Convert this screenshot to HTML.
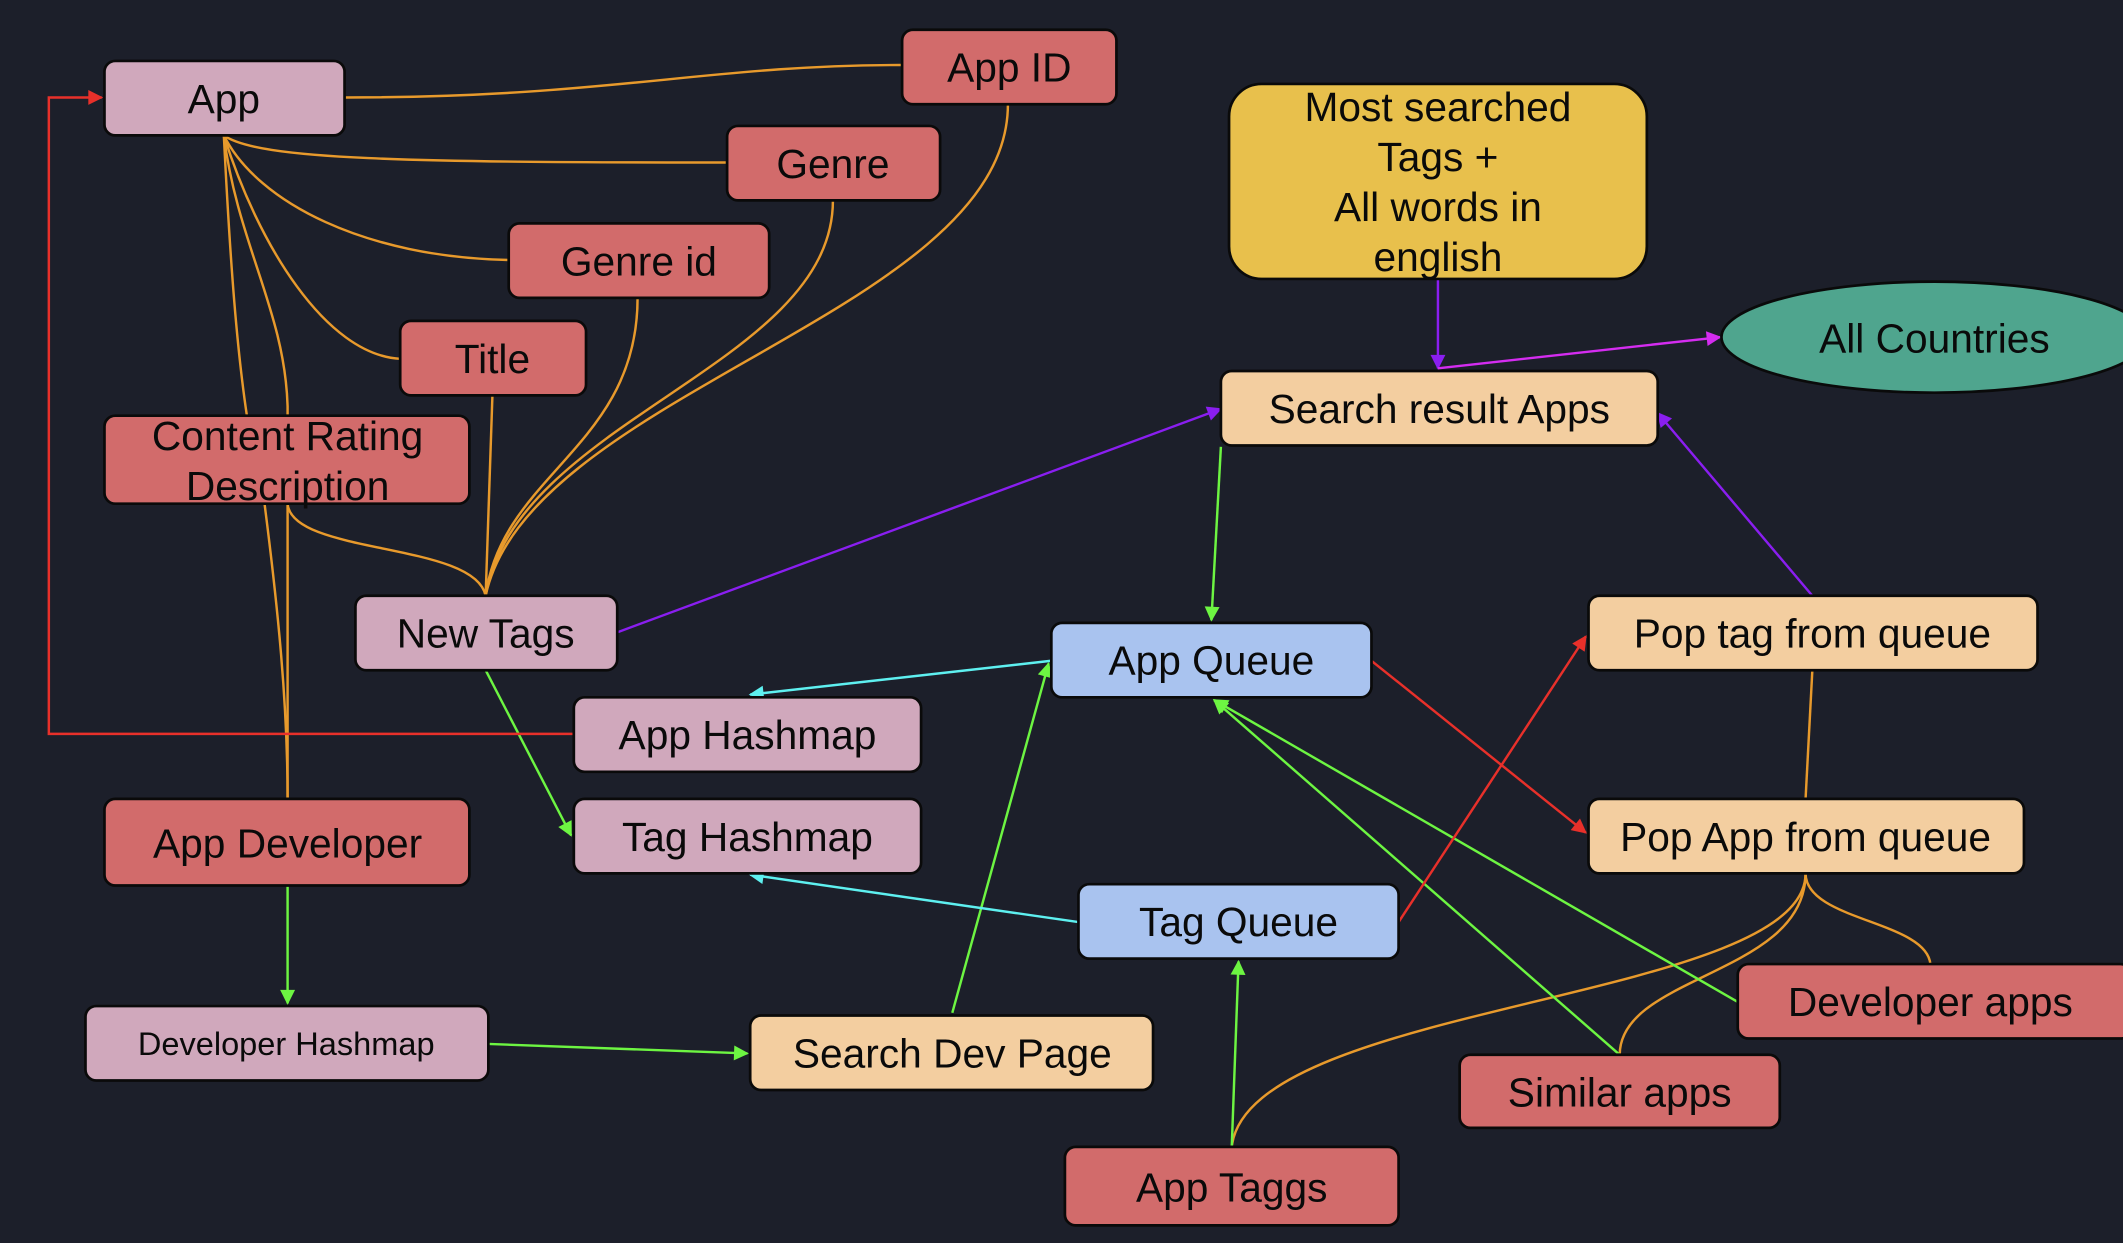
<!DOCTYPE html>
<html><head><meta charset="utf-8"><style>
html,body{margin:0;padding:0;background:#1c1f2a;overflow:hidden}
svg{display:block}
text{font-family:"Liberation Sans",sans-serif;font-size:30px;fill:#0a0a0a;text-anchor:middle;dominant-baseline:central}
.n{stroke:#0a0a0a;stroke-width:2}
.p{fill:#d0a8bc}.r{fill:#d26b6b}.o{fill:#f3cea0}.b{fill:#a9c3ef}
.e{fill:none;stroke-width:1.8}
.or{stroke:#e89a2c}.pu{stroke:#8a1ef0}.gr{stroke:#6df542}.cy{stroke:#5ef0f0}.rd{stroke:#e8302a}.mg{stroke:#d42cf0}
</style></head><body>
<svg width="2123" height="1243" viewBox="0 0 1565 918" preserveAspectRatio="none" xmlns="http://www.w3.org/2000/svg">
<defs>
<marker id="ag" viewBox="0 0 10 10" refX="9" refY="5" markerWidth="16" markerHeight="11" orient="auto" markerUnits="userSpaceOnUse"><path d="M0,0L10,5L0,10z" fill="#6df542"/></marker>
<marker id="ap" viewBox="0 0 10 10" refX="9" refY="5" markerWidth="16" markerHeight="11" orient="auto" markerUnits="userSpaceOnUse"><path d="M0,0L10,5L0,10z" fill="#8a1ef0"/></marker>
<marker id="am" viewBox="0 0 10 10" refX="9" refY="5" markerWidth="16" markerHeight="11" orient="auto" markerUnits="userSpaceOnUse"><path d="M0,0L10,5L0,10z" fill="#d42cf0"/></marker>
<marker id="ac" viewBox="0 0 10 10" refX="9" refY="5" markerWidth="16" markerHeight="11" orient="auto" markerUnits="userSpaceOnUse"><path d="M0,0L10,5L0,10z" fill="#5ef0f0"/></marker>
<marker id="ar" viewBox="0 0 10 10" refX="9" refY="5" markerWidth="16" markerHeight="11" orient="auto" markerUnits="userSpaceOnUse"><path d="M0,0L10,5L0,10z" fill="#e8302a"/></marker>
</defs>
<rect width="1565" height="918" fill="#1c1f2a"/>
<g class="e or">
<path d="M254,72 C450,72 520,48 665,48"/>
<path d="M165,100 C190,118 300,120 536,120"/>
<path d="M165,100 C190,150 270,190 375,192"/>
<path d="M165,100 C190,180 240,262 295,265"/>
<path d="M165,100 C170,200 175,260 182,307"/>
<path d="M165,100 C175,180 210,230 212,300 L212,590"/>
<path d="M195,372 C205,450 212,520 212,590"/>
<path d="M212,372 C215,410 350,400 358,440"/>
<path d="M363,292 L358,440"/>
<path d="M470,220 C470,330 370,350 358,440"/>
<path d="M614,148 C614,270 380,310 358,440"/>
<path d="M743,77 C743,230 390,290 358,440"/>
<path d="M1336,495 L1331,590"/>
<path d="M1331,645 C1331,680 1420,680 1423,712"/>
<path d="M1331,645 C1331,720 1194,720 1194,779"/>
<path d="M1331,645 C1331,740 920,740 908,847"/>
</g>
<path class="e pu" d="M1060,206 L1060,272" marker-end="url(#ap)"/>
<path class="e mg" d="M1060,272 L1268,249" marker-end="url(#am)"/>
<path class="e pu" d="M455,467 L900,302" marker-end="url(#ap)"/>
<path class="e pu" d="M1336,440 L1222,305" marker-end="url(#ap)"/>
<g class="e gr">
<path d="M900,330 L893,458" marker-end="url(#ag)"/>
<path d="M212,654 L212,741" marker-end="url(#ag)"/>
<path d="M360,771 L551,778" marker-end="url(#ag)"/>
<path d="M702,748 L773,490" marker-end="url(#ag)"/>
<path d="M358,495 L421,617" marker-end="url(#ag)"/>
<path d="M908,847 L913,710" marker-end="url(#ag)"/>
<path d="M1194,779 L895,517" marker-end="url(#ag)"/>
<path d="M1281,740 L895,517" marker-end="url(#ag)"/>
</g>
<path class="e cy" d="M775,488 L553,513" marker-end="url(#ac)"/>
<path class="e cy" d="M795,681 L553,646" marker-end="url(#ac)"/>
<path class="e rd" d="M423,542 L36,542 L36,72 L75,72" marker-end="url(#ar)"/>
<path class="e rd" d="M1011,488 L1169,615" marker-end="url(#ar)"/>
<path class="e rd" d="M1031,681 L1169,470" marker-end="url(#ar)"/>
<rect class="n p" x="77" y="45" width="177" height="55" rx="8"/><text x="165" y="73">App</text>
<rect class="n r" x="665" y="22" width="158" height="55" rx="8"/><text x="744" y="50">App ID</text>
<rect class="n r" x="536" y="93" width="157" height="55" rx="8"/><text x="614" y="121">Genre</text>
<rect class="n r" x="375" y="165" width="192" height="55" rx="8"/><text x="471" y="193">Genre id</text>
<rect class="n r" x="295" y="237" width="137" height="55" rx="8"/><text x="363" y="265">Title</text>
<rect class="n r" x="77" y="307" width="269" height="65" rx="8"/><text x="212" y="322">Content Rating</text><text x="212" y="359">Description</text>
<rect class="n p" x="262" y="440" width="193" height="55" rx="8"/><text x="358" y="468">New Tags</text>
<rect class="n p" x="423" y="515" width="256" height="55" rx="8"/><text x="551" y="543">App Hashmap</text>
<rect class="n p" x="423" y="590" width="256" height="55" rx="8"/><text x="551" y="618">Tag Hashmap</text>
<rect class="n r" x="77" y="590" width="269" height="64" rx="8"/><text x="212" y="623">App Developer</text>
<rect class="n p" x="63" y="743" width="297" height="55" rx="8"/><text x="211" y="771" style="font-size:24px">Developer Hashmap</text>
<rect class="n o" x="553" y="750" width="297" height="55" rx="8"/><text x="702" y="778">Search Dev Page</text>
<rect class="n b" x="775" y="460" width="236" height="55" rx="8"/><text x="893" y="488">App Queue</text>
<rect class="n b" x="795" y="653" width="236" height="55" rx="8"/><text x="913" y="681">Tag Queue</text>
<rect class="n r" x="785" y="847" width="246" height="58" rx="8"/><text x="908" y="877">App Taggs</text>
<rect class="n r" x="1076" y="779" width="236" height="54" rx="8"/><text x="1194" y="807">Similar apps</text>
<rect class="n r" x="1281" y="712" width="290" height="55" rx="8"/><text x="1423" y="740">Developer apps</text>
<rect class="n o" x="1171" y="590" width="321" height="55" rx="8"/><text x="1331" y="618">Pop App from queue</text>
<rect class="n o" x="1171" y="440" width="331" height="55" rx="8"/><text x="1336" y="468">Pop tag from queue</text>
<rect class="n o" x="900" y="274" width="322" height="55" rx="8"/><text x="1061" y="302">Search result Apps</text>
<rect class="n" x="906" y="62" width="308" height="144" rx="24" fill="#e8c04c"/>
<text x="1060" y="79">Most searched</text><text x="1060" y="116">Tags +</text><text x="1060" y="153">All words in</text><text x="1060" y="190">english</text>
<ellipse class="n" cx="1426" cy="249" rx="157" ry="41" fill="#4fa58e"/><text x="1426" y="250">All Countries</text>
</svg>
</body></html>
